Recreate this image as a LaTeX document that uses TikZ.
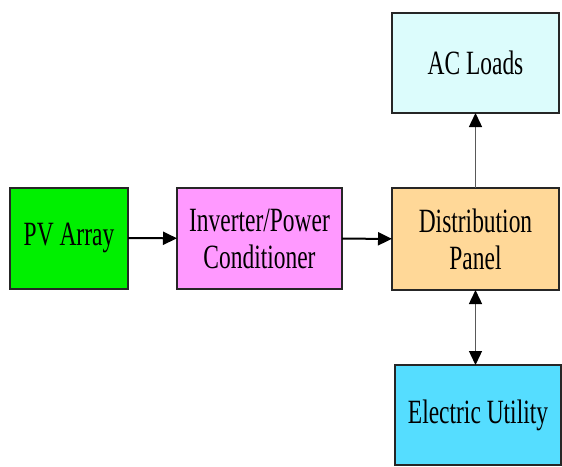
\documentclass[tikz,border=0pt]{standalone}
\usepackage{fontspec}
\setmainfont{Liberation Serif}
\newfontfamily\blkfont[FakeStretch=0.69]{Liberation Serif}
\usepackage{xcolor}
\usetikzlibrary{arrows.meta}

\definecolor{pvgreen}{HTML}{00F000}
\definecolor{invpink}{HTML}{FF99FF}
\definecolor{distorange}{HTML}{FFD898}
\definecolor{acblue}{HTML}{DCFCFC}
\definecolor{utilblue}{HTML}{55DDFF}

\begin{document}
\begin{tikzpicture}[x=1pt, y=-1pt,
  blk/.style={draw=black!85, line width=2pt, inner sep=0pt, outer sep=0pt,
    align=center, font=\blkfont\fontsize{34}{37}\selectfont},
  >={Triangle[length=14pt, width=13pt, black]}]

\useasboundingbox (0,0) rectangle (562,466);

% Boxes
\node[blk, fill=pvgreen, minimum width=118, minimum height=101] (pv) at (69,238) {PV Array};
\node[blk, fill=invpink, minimum width=165, minimum height=101] (inv) at (259.5,238.5) {Inverter/Power\\Conditioner};
\node[blk, fill=distorange, minimum width=167, minimum height=102] (dist) at (475.5,239) {Distribution\\Panel};
\node[blk, fill=acblue, minimum width=167, minimum height=100] (ac) at (475.5,63) {AC Loads};
\node[blk, fill=utilblue, minimum width=166, minimum height=100] (eu) at (478,415) {Electric Utility};

% Power flow
\draw[->, line width=2pt] (pv) -- (inv);
\draw[->, line width=2pt] (inv) -- (dist);
\draw[->, line width=1.4pt, black!65] (dist) -- (ac);
\draw[<->, line width=1.4pt, black!65] (dist.south) -- (dist.south |- eu.north);

\end{tikzpicture}
\end{document}
